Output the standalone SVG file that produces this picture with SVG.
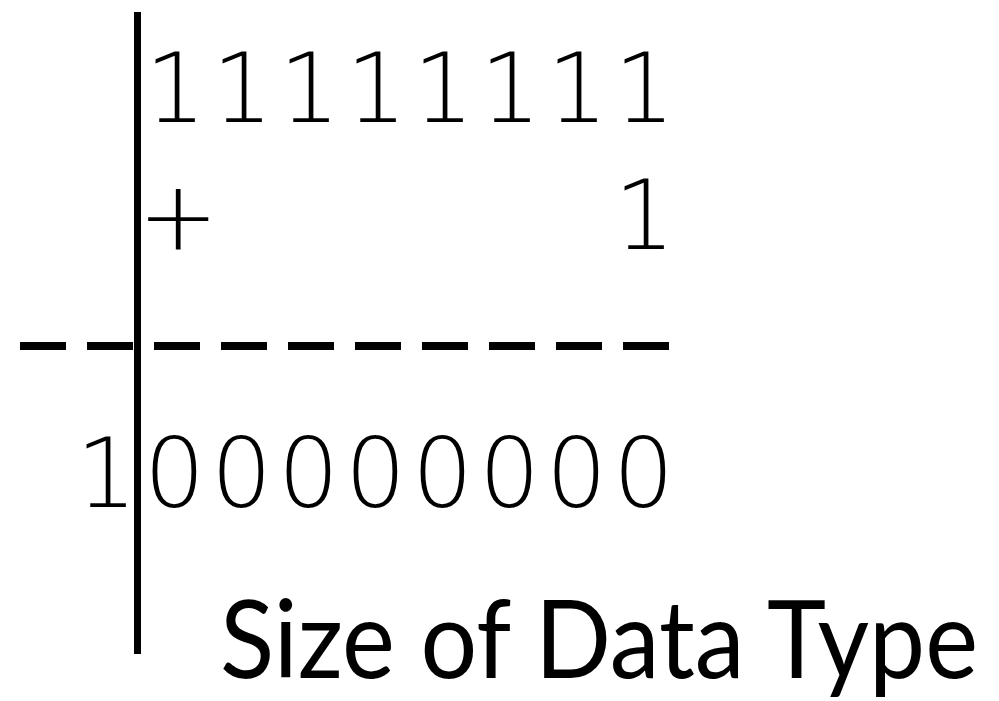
<svg xmlns="http://www.w3.org/2000/svg" width="999" height="701" viewBox="0 0 999 701">
  <style>
    .digits { font-family: "DejaVu Sans", "Liberation Sans", sans-serif; font-weight: 200; font-size: 96px; fill: #000; }
    .label { font-family: Lato, "Open Sans", "Liberation Sans", sans-serif; font-size: 108px; fill: #000; }
    .rule { stroke: #000; fill: none; }
  </style>
  <rect width="999" height="701" fill="#fff"/>
  <g id="lines">
    <line class="rule" x1="137.5" y1="12" x2="137.5" y2="654" stroke-width="7"/>
    <line class="rule" x1="20" y1="346" x2="672" y2="346" stroke-width="8" stroke-dasharray="46 21"/>
  </g>
  <g id="addend1">
    <text class="digits" x="145 212 279 346 413 480 547 614" y="122">11111111</text>
  </g>
  <g id="addend2">
    <text class="digits" x="138" y="249">+</text>
    <text class="digits" x="614" y="249">1</text>
  </g>
  <g id="sum">
    <text class="digits" x="76 144 211 278 345 412 479 546 613" y="507">100000000</text>
  </g>
  <g id="caption">
    <text class="label" x="220" y="678" textLength="758" lengthAdjust="spacingAndGlyphs">Size of Data Type</text>
  </g>
</svg>
